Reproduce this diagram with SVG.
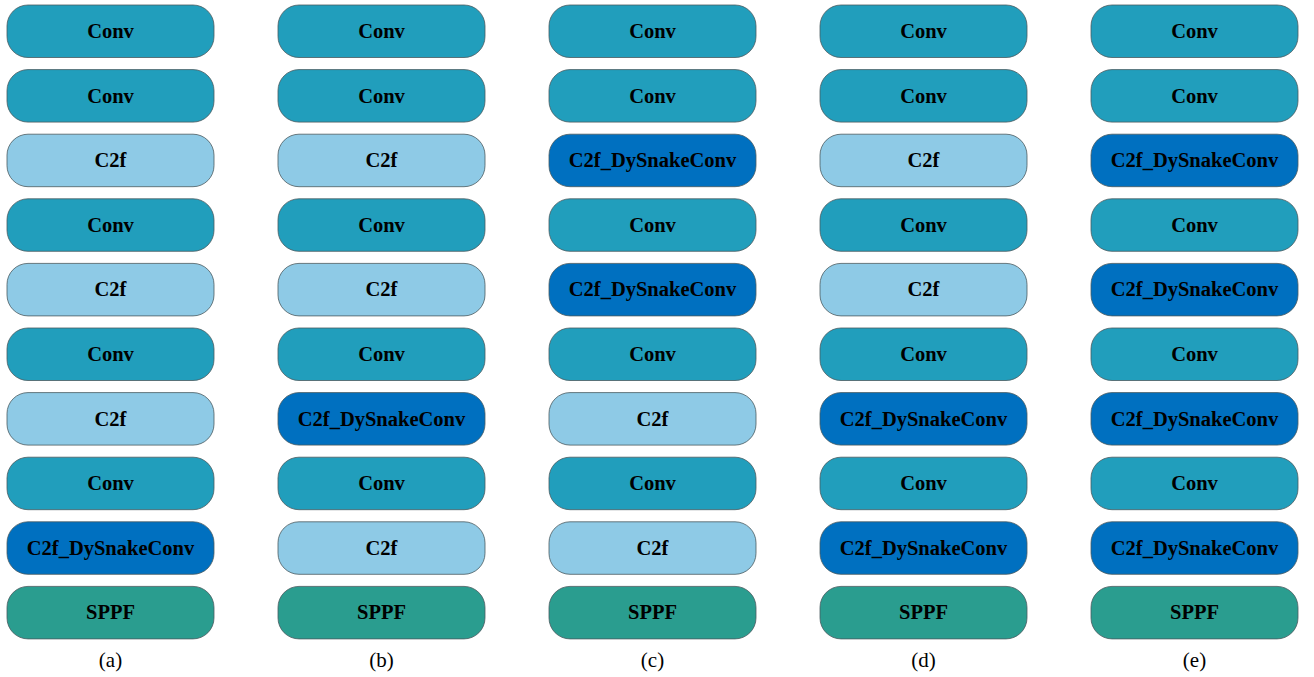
<svg xmlns="http://www.w3.org/2000/svg" width="1314" height="677" viewBox="0 0 1314 677">
<style>
rect{stroke:#4a5a60;stroke-width:0.8}
.conv{fill:#219EBC}
.c2f{fill:#8ECAE6}
.dsc{fill:#0070C0}
.sppf{fill:#2A9D8F}
text{font-family:"Liberation Serif","Times New Roman",serif;text-anchor:middle}
.t{font-size:20.5px;font-weight:bold;fill:#000}
.cap{font-size:21px;fill:#000}
</style>
<g id="col-a" transform="translate(7,0)">
<g id="a1"><rect class="conv" x="0" y="5" width="207" height="52.5" rx="21"/><text class="t" x="103.5" y="38">Conv</text></g>
<g id="a2"><rect class="conv" x="0" y="69.6" width="207" height="52.5" rx="21"/><text class="t" x="103.5" y="102.6">Conv</text></g>
<g id="a3"><rect class="c2f" x="0" y="134.2" width="207" height="52.5" rx="21"/><text class="t" x="103.5" y="167.2">C2f</text></g>
<g id="a4"><rect class="conv" x="0" y="198.8" width="207" height="52.5" rx="21"/><text class="t" x="103.5" y="231.8">Conv</text></g>
<g id="a5"><rect class="c2f" x="0" y="263.4" width="207" height="52.5" rx="21"/><text class="t" x="103.5" y="296.4">C2f</text></g>
<g id="a6"><rect class="conv" x="0" y="328" width="207" height="52.5" rx="21"/><text class="t" x="103.5" y="361">Conv</text></g>
<g id="a7"><rect class="c2f" x="0" y="392.6" width="207" height="52.5" rx="21"/><text class="t" x="103.5" y="425.6">C2f</text></g>
<g id="a8"><rect class="conv" x="0" y="457.2" width="207" height="52.5" rx="21"/><text class="t" x="103.5" y="490.2">Conv</text></g>
<g id="a9"><rect class="dsc" x="0" y="521.8" width="207" height="52.5" rx="21"/><text class="t" x="103.5" y="554.8">C2f_DySnakeConv</text></g>
<g id="a10"><rect class="sppf" x="0" y="586.4" width="207" height="52.5" rx="21"/><text class="t" x="103.5" y="619.4">SPPF</text></g>
<text class="cap" x="103.5" y="667">(a)</text>
</g>
<g id="col-b" transform="translate(278,0)">
<g id="b1"><rect class="conv" x="0" y="5" width="207" height="52.5" rx="21"/><text class="t" x="103.5" y="38">Conv</text></g>
<g id="b2"><rect class="conv" x="0" y="69.6" width="207" height="52.5" rx="21"/><text class="t" x="103.5" y="102.6">Conv</text></g>
<g id="b3"><rect class="c2f" x="0" y="134.2" width="207" height="52.5" rx="21"/><text class="t" x="103.5" y="167.2">C2f</text></g>
<g id="b4"><rect class="conv" x="0" y="198.8" width="207" height="52.5" rx="21"/><text class="t" x="103.5" y="231.8">Conv</text></g>
<g id="b5"><rect class="c2f" x="0" y="263.4" width="207" height="52.5" rx="21"/><text class="t" x="103.5" y="296.4">C2f</text></g>
<g id="b6"><rect class="conv" x="0" y="328" width="207" height="52.5" rx="21"/><text class="t" x="103.5" y="361">Conv</text></g>
<g id="b7"><rect class="dsc" x="0" y="392.6" width="207" height="52.5" rx="21"/><text class="t" x="103.5" y="425.6">C2f_DySnakeConv</text></g>
<g id="b8"><rect class="conv" x="0" y="457.2" width="207" height="52.5" rx="21"/><text class="t" x="103.5" y="490.2">Conv</text></g>
<g id="b9"><rect class="c2f" x="0" y="521.8" width="207" height="52.5" rx="21"/><text class="t" x="103.5" y="554.8">C2f</text></g>
<g id="b10"><rect class="sppf" x="0" y="586.4" width="207" height="52.5" rx="21"/><text class="t" x="103.5" y="619.4">SPPF</text></g>
<text class="cap" x="103.5" y="667">(b)</text>
</g>
<g id="col-c" transform="translate(549,0)">
<g id="c1"><rect class="conv" x="0" y="5" width="207" height="52.5" rx="21"/><text class="t" x="103.5" y="38">Conv</text></g>
<g id="c2"><rect class="conv" x="0" y="69.6" width="207" height="52.5" rx="21"/><text class="t" x="103.5" y="102.6">Conv</text></g>
<g id="c3"><rect class="dsc" x="0" y="134.2" width="207" height="52.5" rx="21"/><text class="t" x="103.5" y="167.2">C2f_DySnakeConv</text></g>
<g id="c4"><rect class="conv" x="0" y="198.8" width="207" height="52.5" rx="21"/><text class="t" x="103.5" y="231.8">Conv</text></g>
<g id="c5"><rect class="dsc" x="0" y="263.4" width="207" height="52.5" rx="21"/><text class="t" x="103.5" y="296.4">C2f_DySnakeConv</text></g>
<g id="c6"><rect class="conv" x="0" y="328" width="207" height="52.5" rx="21"/><text class="t" x="103.5" y="361">Conv</text></g>
<g id="c7"><rect class="c2f" x="0" y="392.6" width="207" height="52.5" rx="21"/><text class="t" x="103.5" y="425.6">C2f</text></g>
<g id="c8"><rect class="conv" x="0" y="457.2" width="207" height="52.5" rx="21"/><text class="t" x="103.5" y="490.2">Conv</text></g>
<g id="c9"><rect class="c2f" x="0" y="521.8" width="207" height="52.5" rx="21"/><text class="t" x="103.5" y="554.8">C2f</text></g>
<g id="c10"><rect class="sppf" x="0" y="586.4" width="207" height="52.5" rx="21"/><text class="t" x="103.5" y="619.4">SPPF</text></g>
<text class="cap" x="103.5" y="667">(c)</text>
</g>
<g id="col-d" transform="translate(820,0)">
<g id="d1"><rect class="conv" x="0" y="5" width="207" height="52.5" rx="21"/><text class="t" x="103.5" y="38">Conv</text></g>
<g id="d2"><rect class="conv" x="0" y="69.6" width="207" height="52.5" rx="21"/><text class="t" x="103.5" y="102.6">Conv</text></g>
<g id="d3"><rect class="c2f" x="0" y="134.2" width="207" height="52.5" rx="21"/><text class="t" x="103.5" y="167.2">C2f</text></g>
<g id="d4"><rect class="conv" x="0" y="198.8" width="207" height="52.5" rx="21"/><text class="t" x="103.5" y="231.8">Conv</text></g>
<g id="d5"><rect class="c2f" x="0" y="263.4" width="207" height="52.5" rx="21"/><text class="t" x="103.5" y="296.4">C2f</text></g>
<g id="d6"><rect class="conv" x="0" y="328" width="207" height="52.5" rx="21"/><text class="t" x="103.5" y="361">Conv</text></g>
<g id="d7"><rect class="dsc" x="0" y="392.6" width="207" height="52.5" rx="21"/><text class="t" x="103.5" y="425.6">C2f_DySnakeConv</text></g>
<g id="d8"><rect class="conv" x="0" y="457.2" width="207" height="52.5" rx="21"/><text class="t" x="103.5" y="490.2">Conv</text></g>
<g id="d9"><rect class="dsc" x="0" y="521.8" width="207" height="52.5" rx="21"/><text class="t" x="103.5" y="554.8">C2f_DySnakeConv</text></g>
<g id="d10"><rect class="sppf" x="0" y="586.4" width="207" height="52.5" rx="21"/><text class="t" x="103.5" y="619.4">SPPF</text></g>
<text class="cap" x="103.5" y="667">(d)</text>
</g>
<g id="col-e" transform="translate(1091,0)">
<g id="e1"><rect class="conv" x="0" y="5" width="207" height="52.5" rx="21"/><text class="t" x="103.5" y="38">Conv</text></g>
<g id="e2"><rect class="conv" x="0" y="69.6" width="207" height="52.5" rx="21"/><text class="t" x="103.5" y="102.6">Conv</text></g>
<g id="e3"><rect class="dsc" x="0" y="134.2" width="207" height="52.5" rx="21"/><text class="t" x="103.5" y="167.2">C2f_DySnakeConv</text></g>
<g id="e4"><rect class="conv" x="0" y="198.8" width="207" height="52.5" rx="21"/><text class="t" x="103.5" y="231.8">Conv</text></g>
<g id="e5"><rect class="dsc" x="0" y="263.4" width="207" height="52.5" rx="21"/><text class="t" x="103.5" y="296.4">C2f_DySnakeConv</text></g>
<g id="e6"><rect class="conv" x="0" y="328" width="207" height="52.5" rx="21"/><text class="t" x="103.5" y="361">Conv</text></g>
<g id="e7"><rect class="dsc" x="0" y="392.6" width="207" height="52.5" rx="21"/><text class="t" x="103.5" y="425.6">C2f_DySnakeConv</text></g>
<g id="e8"><rect class="conv" x="0" y="457.2" width="207" height="52.5" rx="21"/><text class="t" x="103.5" y="490.2">Conv</text></g>
<g id="e9"><rect class="dsc" x="0" y="521.8" width="207" height="52.5" rx="21"/><text class="t" x="103.5" y="554.8">C2f_DySnakeConv</text></g>
<g id="e10"><rect class="sppf" x="0" y="586.4" width="207" height="52.5" rx="21"/><text class="t" x="103.5" y="619.4">SPPF</text></g>
<text class="cap" x="103.5" y="667">(e)</text>
</g>
<g id="connectors"/>
</svg>
